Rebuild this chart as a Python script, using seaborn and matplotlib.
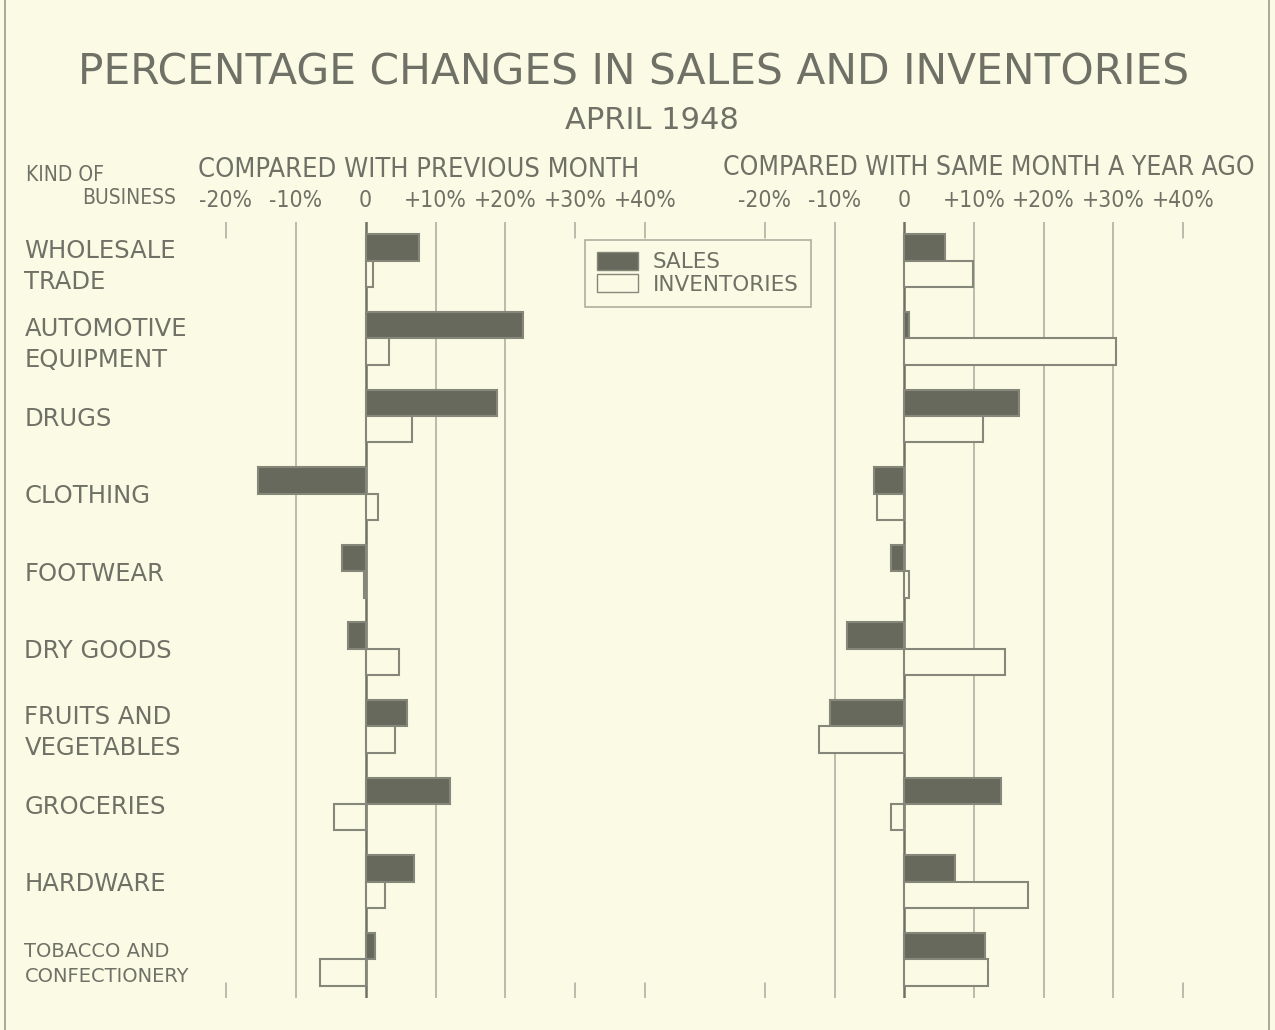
import pandas as pd
import numpy as np
import matplotlib
matplotlib.use('Agg')
import matplotlib.pyplot as plt
from matplotlib.patches import Patch
from matplotlib.lines import Line2D
import seaborn as sns

businesses = ['WHOLESALE\nTRADE', 'AUTOMOTIVE\nEQUIPMENT', 'DRUGS', 'CLOTHING', 'FOOTWEAR',
              'DRY GOODS', 'FRUITS AND\nVEGETABLES', 'GROCERIES', 'HARDWARE',
              'TOBACCO AND\nCONFECTIONERY']
series = ['SALES', 'INVENTORIES']

# compared with previous month (%)
month_sales = [7.6, 22.5, 18.8, -15.4, -3.4, -2.6, 5.9, 12.1, 6.9, 1.4]
month_inventories = [1.1, 3.4, 6.6, 1.8, -0.3, 4.8, 4.2, -4.5, 2.7, -6.5]

# compared with same month a year ago (%)
year_sales = [5.9, 0.7, 16.4, -4.3, -1.9, -8.2, -10.7, 13.9, 7.3, 11.6]
year_inventories = [9.8, 30.4, 11.3, -3.9, 0.7, 14.4, -12.3, -1.9, 17.7, 12.0]

ticks = [-20, -10, 0, 10, 20, 30, 40]
tick_labels = ['-20%', '-10%', '0', '+10%', '+20%', '+30%', '+40%']

# which ticks get a full rule and which only a short mark, per panel
month_rules = [-10, 0, 10, 20]
month_marks = [-20, 30, 40]
year_rules = [-10, 0, 10, 20, 30]
year_marks = [-20, 40]

paper = '#fbfbe5'
ink = '#6f7166'
bar_dark = '#66695b'
rule = '#a7a99b'


def frame(sales, inventories):
    return pd.DataFrame({
        'business': businesses * 2,
        'series': ['SALES'] * len(businesses) + ['INVENTORIES'] * len(businesses),
        'change': sales + inventories,
    })


def draw_panel(ax, df, rules, marks, show_labels):
    for v in rules:
        ax.axvline(v, color=ink if v == 0 else rule, lw=1.8 if v == 0 else 1.1, zorder=0.5)
    for v in marks:
        ax.axvline(v, ymin=0.98, ymax=1.0, color=rule, lw=1.1, zorder=0.5)
        ax.axvline(v, ymin=0.0, ymax=0.02, color=rule, lw=1.1, zorder=0.5)
    sns.barplot(data=df, y='business', x='change', hue='series', order=businesses,
                hue_order=series, palette={'SALES': bar_dark, 'INVENTORIES': paper},
                orient='h', width=0.68, errorbar=None, saturation=1,
                edgecolor='#85877a', linewidth=1.5, legend=False, ax=ax)
    ax.set_xlim(-23, 43)
    ax.set_ylim(len(businesses) - 0.5, -0.5)
    ax.xaxis.set_ticks_position('top')
    ax.set_xticks(ticks, tick_labels)
    ax.tick_params(axis='x', length=0, pad=7, labelsize=16.5, labelcolor=ink)
    for lab in ax.get_xticklabels():
        lab.set_fontstretch('condensed')
    ax.tick_params(axis='y', length=0)
    ax.set_xlabel('')
    ax.set_ylabel('')
    ax.set_facecolor('none')
    for s in ax.spines.values():
        s.set_visible(False)
    if show_labels:
        ax.tick_params(axis='y', pad=130, labelsize=17.5, labelcolor=ink)
        for lab in ax.get_yticklabels():
            lab.set_ha('left')
            lab.set_linespacing(1.35)
        ax.get_yticklabels()[-1].set_fontsize(14)
    else:
        ax.set_yticklabels([])


sns.set_theme(style='white')
plt.rcParams['font.family'] = ['DejaVu Sans']

fig = plt.figure(figsize=(12.75, 10.3), dpi=100, facecolor=paper)
ax1 = fig.add_axes([0.1608, 0.031, 0.3616, 0.7534])
ax2 = fig.add_axes([0.5835, 0.031, 0.3608, 0.7534])

draw_panel(ax1, frame(month_sales, month_inventories), month_rules, month_marks, True)
draw_panel(ax2, frame(year_sales, year_inventories), year_rules, year_marks, False)

handles = [Patch(facecolor=bar_dark, edgecolor='#85877a', label='SALES'),
           Patch(facecolor=paper, edgecolor='#85877a', label='INVENTORIES')]
leg = fig.legend(handles=handles, loc='upper left', bbox_to_anchor=(0.459, 0.767),
                 borderaxespad=0, frameon=True, fancybox=False, fontsize=15.5,
                 labelcolor=ink, handlelength=1.9, handleheight=0.9, borderpad=0.55,
                 labelspacing=0.1, handletextpad=0.7,
                 facecolor=paper, edgecolor='#9a9c8e')
leg.get_frame().set_linewidth(1.2)

fig.text(0.497, 0.930, 'PERCENTAGE CHANGES IN SALES AND INVENTORIES',
         ha='center', va='center', fontsize=30.5, color=ink)
fig.text(0.511, 0.883, 'APRIL 1948', ha='center', va='center', fontsize=22, color=ink)
fig.text(0.328, 0.835, 'COMPARED WITH PREVIOUS MONTH', ha='center', va='center',
         fontsize=19.5, color=ink, fontstretch='condensed')
fig.text(0.7755, 0.837, 'COMPARED WITH SAME MONTH A YEAR AGO', ha='center', va='center',
         fontsize=19, color=ink, fontstretch='condensed')
fig.text(0.020, 0.830, 'KIND OF', ha='left', va='center', fontsize=15, color=ink,
         fontstretch='condensed')
fig.text(0.138, 0.808, 'BUSINESS', ha='right', va='center', fontsize=15, color=ink,
         fontstretch='condensed')

# scanned page frame
fig.add_artist(Line2D([0.004, 0.004], [0, 1], color='#9a9c8e', lw=1.2))
fig.add_artist(Line2D([0.995, 0.995], [0, 1], color='#9a9c8e', lw=1.2))

fig.savefig('out.png', dpi=100, facecolor=paper)
